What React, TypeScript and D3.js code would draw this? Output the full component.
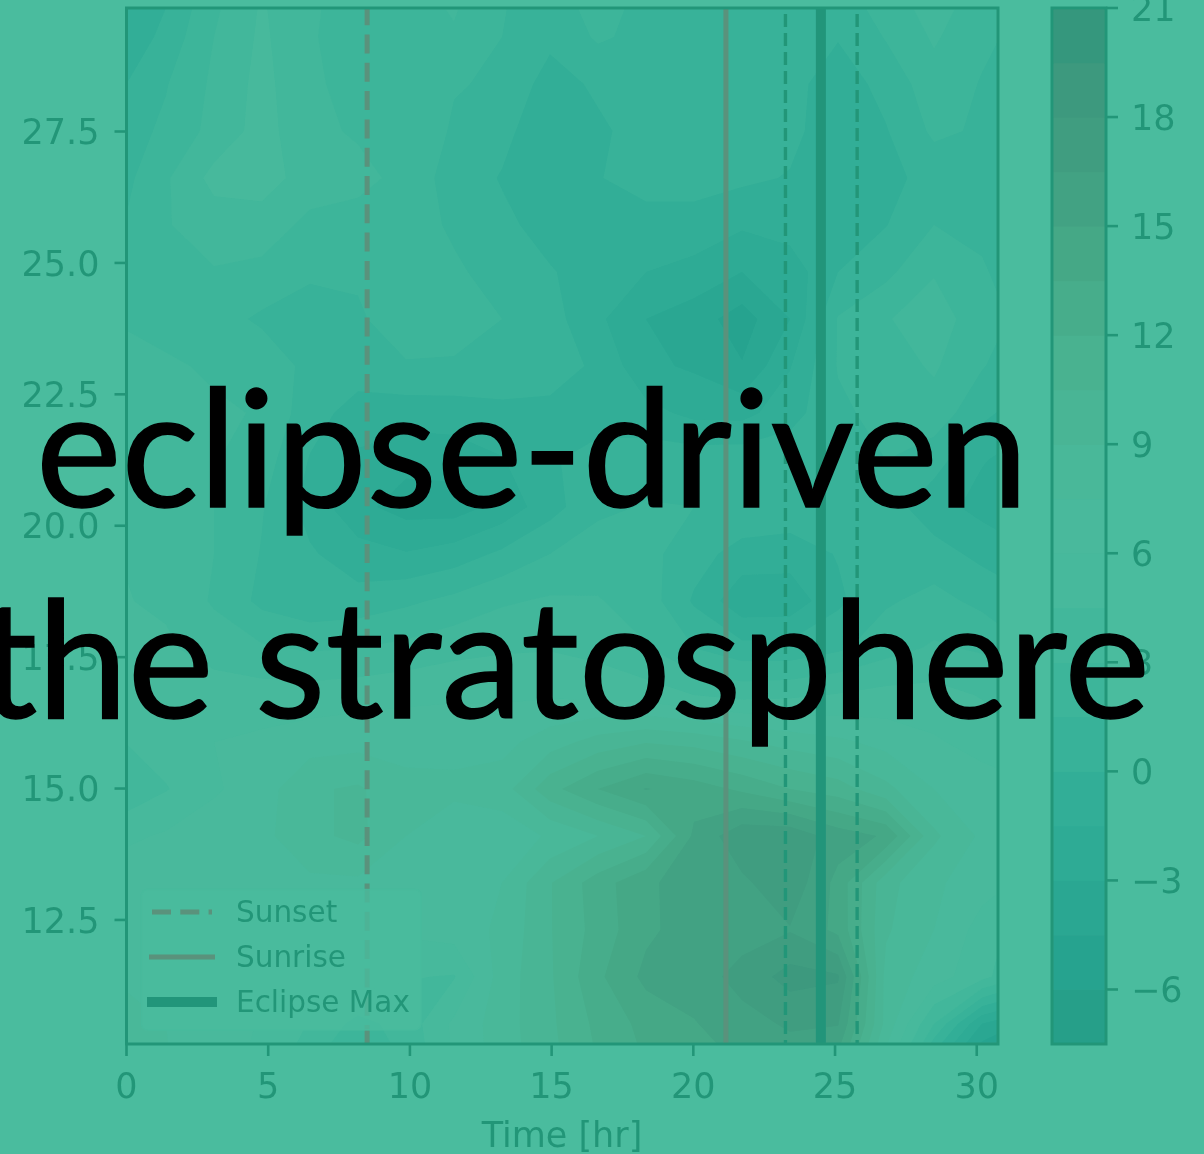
import React from "react";
import * as d3 from "d3";

const timeHours = [-0.3, 1.39, 3.09, 4.78, 6.47, 8.17, 9.86, 11.56, 13.25, 14.94, 16.64, 18.33, 20.03, 21.72, 23.41, 25.11, 26.8, 28.49, 30.19, 31.88];
const altitudeKm = [30.19, 29.29, 28.4, 27.51, 26.62, 25.72, 24.83, 23.93, 23.04, 22.15, 21.25, 20.36, 19.46, 18.57, 17.67, 16.78, 15.89, 14.99, 14.1, 13.2, 12.31, 11.41, 10.52, 9.63];
const anomaly = [
  [-2, -0.3, 2.5, 4.6, 3.2, 2.5, 2.5, 3.4, 1.6, 1, 2.2, 1.2, 1, 0.9, 0.9, 1, 2.4, 4, 2.4, 1.4],
  [-1.5, 0.5, 3, 4.8, 3.1, 2.5, 2.4, 2.8, 1.5, 0.4, 1.7, 1.1, 1, 0.9, 0.6, 0.1, 1.6, 3.2, 1.8, 1],
  [-0.3, 1.4, 3.3, 5, 3.2, 2.6, 2.3, 1.6, 1.3, -0.7, 0.3, 0.9, 1, 0.9, 0.5, -0.8, 0.5, 2.4, 1.4, 1],
  [0.7, 1.8, 3.5, 5.1, 3.4, 2.8, 2.7, 1.3, 0.4, -1, -0.3, 0.7, 1, 1, 0.4, -0.9, -0.1, 1.8, 1.3, 1],
  [0.8, 2.8, 5, 5.4, 3.6, 3.5, 2.5, 0.8, -0.1, -1.1, -0.1, 0.8, 0.6, 0.3, -0.1, -0.9, -0.4, 0.5, 1.1, 1],
  [1.3, 2.9, 3.7, 3.6, 2.7, 2.3, 2.1, 1.3, 0.3, -0.5, -0.8, -0.8, -0.6, -1.3, -0.8, -0.3, -0.05, 1.5, 1.3, 0.9],
  [1.8, 2.4, 2.9, 2.7, 1.7, 1.8, 3, 1.7, 1, 0.1, -0.6, -1.5, -2, -3, -2.4, 0, 1.1, 2.9, 1.6, 0.9],
  [2.9, 2.5, 2.2, 1.2, 0.9, 1.2, 2.7, 2.6, 1.5, 0.6, -1.2, -3, -3.8, -5.2, -3, 1.6, 2.9, 3.7, 2.2, 0.9],
  [3.6, 3.2, 2.8, 2.6, 1, 0.7, 1.3, 1.2, 1, 0.5, -0.2, -2.7, -3.2, -4.4, -1.6, 1.6, 2.3, 3.2, 1.6, 0.3],
  [4, 3.6, 3.2, 2.9, 0.6, -0.6, -0.8, -0.7, -0.4, -0.3, -0.8, -1, -1.9, -2, -0.6, 1.2, 2, 2.4, 0.4, -1],
  [4.2, 3.7, 3.1, 2.2, -0.1, -1.8, -2.6, -2.4, -1.6, -0.2, 0.7, 0.9, 0.9, 1, 1, 1.2, 1.5, 0.6, -1.4, -2.2],
  [4.3, 3.8, 3, 1.6, -0.6, -2.6, -3.6, -3.7, -2.5, -0.6, 1.2, 1.6, 1.5, 1.2, 1, 1, 0.7, -0.9, -2, -2.4],
  [4.5, 4, 3, 1.4, 0.2, -0.9, -1.4, -0.8, 0.3, 1.5, 2.2, 2, 0.6, -0.6, -0.8, 0.1, 0.9, 0.6, -0.4, -1.4],
  [4.6, 4.3, 2.8, 1.1, 0.4, 0.6, 1.2, 1.9, 2.8, 3.2, 3.1, 2.3, -0.2, -2.6, -2.5, -0.3, 1.3, 2, 1.1, 0.3],
  [4.9, 4.7, 3.9, 3.2, 2.8, 3, 3.4, 4, 4.3, 4.4, 4, 3.1, 1.5, 0.5, 0.5, 1.2, 2.4, 3.2, 2.8, 1.5],
  [5, 5.4, 5.2, 5.2, 5.2, 5.4, 5.7, 5.8, 5.8, 5.8, 5.6, 5.2, 4.5, 4, 4.2, 4.6, 5, 5, 4.4, 3.2],
  [4.4, 5.2, 6, 6.3, 6.8, 7, 6.9, 6.9, 7, 8.3, 9.6, 10.4, 10, 9.2, 8.4, 7.8, 7, 6.2, 5.4, 4.4],
  [3, 4.4, 5.8, 6.8, 8.8, 9.2, 8, 7.9, 8.3, 11.5, 13.5, 15.1, 14.3, 13.2, 12, 11.2, 9.4, 7.5, 6.8, 6.3],
  [5.6, 6.2, 6.8, 7.1, 8.6, 9.4, 7.5, 6.4, 6.6, 7.7, 9, 10.5, 15.3, 17.6, 17.6, 15.8, 14.8, 9.3, 7.2, 6.3],
  [6.8, 6.8, 6.6, 6.8, 7.2, 7.2, 7.2, 7.2, 7.5, 10.4, 12.8, 14.7, 15.8, 16.2, 17.6, 14.5, 9.5, 7.8, 6.6, 5.6],
  [7, 6.8, 6.2, 6.2, 6.6, 6.7, 6.3, 6.7, 7.8, 10.4, 12.6, 14.7, 15.7, 15.9, 16.4, 14.6, 9.2, 7.5, 5.4, 3.4],
  [7.4, 7.1, 6.8, 6.4, 6.2, 5.4, 4.6, 4.4, 8.2, 10.3, 13.2, 15.4, 15.8, 17, 18.6, 18.2, 8.5, 6.7, 5, 2.6],
  [8, 7.5, 6.6, 5.9, 4.4, 2.5, 3.6, 6.3, 8.3, 10.2, 12.4, 14, 14.9, 16, 16.7, 16.6, 8.5, 3, -3, -5],
  [8, 7.6, 6.6, 5.6, 3, 1, 3, 6.2, 8.2, 10, 12, 13.5, 14.2, 15, 15.5, 14, 6.5, -2, -7, -8],
];
const levels = d3.range(0, 20).map((i) => -7.5 + i * 1.5);
const xTicks = [0, 5, 10, 15, 20, 25, 30];
const yTicks = [12.5, 15, 17.5, 20, 22.5, 25, 27.5];
const colorbarTicks = [-6, -3, 0, 3, 6, 9, 12, 15, 18, 21];
const sunsetHour = 8.49;
const sunriseHour = 21.15;
const eclipseMaxHour = 24.5;
const eclipseContactHours = [23.25, 25.78];
const legendEntries = ["Sunset", "Sunrise", "Eclipse Max"];
const titleLines = ["eclipse-driven", "the stratosphere"];

const INK = "#249678";
const BG = "#4abc9e";
const GRAY = "#5a927b";
const FONT = "'DejaVu Sans'";

const W = 1204, H = 1154;
const plot = { l: 126.5, r: 998, t: 8, b: 1044 };
const x = d3.scaleLinear().domain([0, 30.75]).range([plot.l, plot.r]);
const y = d3.scaleLinear().domain([10.14, 29.85]).range([plot.b, plot.t]);
const cbar = { l: 1052, r: 1106 };
const cy = d3.scaleLinear().domain([-7.5, 21]).range([plot.b, plot.t]);

const bandColor = (i: number) => {
  const mid = (levels[i] + levels[i + 1]) / 2;
  const t = (mid + 7.5) / 28.5;
  const c = d3.rgb(d3.interpolateRdBu(1 - t));
  return d3.rgb(42 * 0.85 + c.r * 0.15, 176 * 0.85 + c.g * 0.15, 141 * 0.85 + c.b * 0.15).formatHex();
};

const nx = timeHours.length, ny = altitudeKm.length;
const gx = d3.scaleLinear().domain([0.5, nx - 0.5]).range([x(timeHours[0]), x(timeHours[nx - 1])]);
const gy = d3.scaleLinear().domain([0.5, ny - 0.5]).range([y(altitudeKm[0]), y(altitudeKm[ny - 1])]);
const gridPath = d3.geoPath(
  d3.geoTransform({
    point(this: any, a: number, b: number) {
      this.stream.point(gx(a), gy(b));
    },
  })
);
const contourGen = d3.contours().size([nx, ny]).thresholds(levels.slice(1, -1));
const bands = contourGen(anomaly.flat());

export default function App() {
  return (
    <svg
      width={W}
      height={H}
      viewBox={`0 0 ${W} ${H}`}
      style={{ position: "absolute", left: 0, top: 0, background: BG }}
      fontFamily={FONT}
    >
      <defs>
        <clipPath id="plotClip">
          <rect x={plot.l} y={plot.t} width={plot.r - plot.l} height={plot.b - plot.t} />
        </clipPath>
        <filter id="soft" x="-5%" y="-5%" width="110%" height="110%">
          <feGaussianBlur stdDeviation="0.55" />
        </filter>
      </defs>
      <rect width={W} height={H} fill={BG} />
      <g filter="url(#soft)">
        <g clipPath="url(#plotClip)">
          <rect x={plot.l} y={plot.t} width={plot.r - plot.l} height={plot.b - plot.t} fill={bandColor(0)} />
          {bands.map((b, i) => (
            <path key={i} d={gridPath(b as any) || ""} fill={bandColor(i + 1)} />
          ))}
          <line x1={x(sunsetHour)} x2={x(sunsetHour)} y1={plot.b} y2={plot.t} stroke={GRAY} strokeWidth={5} strokeDasharray="19 9.3" />
          <line x1={x(sunriseHour)} x2={x(sunriseHour)} y1={plot.b} y2={plot.t} stroke={GRAY} strokeWidth={5} />
          {eclipseContactHours.map((h) => (
            <line key={h} x1={x(h)} x2={x(h)} y1={plot.b} y2={plot.t} stroke={INK} strokeWidth={3.4} strokeDasharray="13 6" strokeDashoffset={9} />
          ))}
          <line x1={x(eclipseMaxHour)} x2={x(eclipseMaxHour)} y1={plot.b} y2={plot.t} stroke="#22957a" strokeWidth={10} />
        </g>

        {/* legend */}
        <rect x={141.5} y={889.5} width={279.5} height={140.5} rx={6} fill={BG} fillOpacity={0.8} stroke="#47ba9c" strokeOpacity={0.8} strokeWidth={1.5} />
        <line x1={152} x2={212} y1={912} y2={912} stroke={GRAY} strokeWidth={5} strokeDasharray="19 9.3" />
        <line x1={149} x2={215} y1={957} y2={957} stroke={GRAY} strokeWidth={5} />
        <line x1={147} x2={217} y1={1002} y2={1002} stroke="#22957a" strokeWidth={10} />
        {legendEntries.map((t, i) => (
          <text key={t} x={236} y={922 + i * 45} fontSize={29.5} fill={INK}>{t}</text>
        ))}

        {/* axes frame */}
        <rect x={plot.l} y={plot.t} width={plot.r - plot.l} height={plot.b - plot.t} fill="none" stroke={INK} strokeWidth={3} />

        {xTicks.map((t) => (
          <g key={t}>
            <line x1={x(t)} x2={x(t)} y1={plot.b} y2={plot.b + 12} stroke={INK} strokeWidth={2.6} />
            <text x={x(t)} y={1098} fontSize={35} textAnchor="middle" fill={INK}>{t}</text>
          </g>
        ))}
        {yTicks.map((t) => (
          <g key={t}>
            <line x1={plot.l - 12} x2={plot.l} y1={y(t)} y2={y(t)} stroke={INK} strokeWidth={2.6} />
            <text x={99.5} y={y(t) + 12.7} fontSize={35} textAnchor="end" fill={INK}>{t.toFixed(1)}</text>
          </g>
        ))}
        <text x={562} y={1147} fontSize={35} textAnchor="middle" fill={INK}>Time [hr]</text>

        {/* colour bar */}
        {levels.slice(0, -1).map((l, i) => (
          <rect key={l} x={cbar.l} y={cy(levels[i + 1])} width={cbar.r - cbar.l} height={cy(l) - cy(levels[i + 1]) + 0.5} fill={bandColor(i)} />
        ))}
        <rect x={cbar.l} y={plot.t} width={cbar.r - cbar.l} height={plot.b - plot.t} fill="none" stroke={INK} strokeWidth={3} />
        {colorbarTicks.map((t) => (
          <g key={t}>
            <line x1={cbar.r} x2={cbar.r + 12} y1={cy(t)} y2={cy(t)} stroke={INK} strokeWidth={2.6} />
            <text x={1131} y={cy(t) + 12.7} fontSize={35} fill={INK}>{t < 0 ? `\u2212${-t}` : t}</text>
          </g>
        ))}
      </g>

      {/* caption */}
      <text x={36} y={507} fontFamily="Lato" fontSize={163} fill="#000" stroke="#000" strokeWidth={1.5} textLength={992} lengthAdjust="spacingAndGlyphs">{titleLines[0]}</text>
      <text x={-21} y={718} fontFamily="Lato" fontSize={163} fill="#000" stroke="#000" strokeWidth={1.5} textLength={1171} lengthAdjust="spacingAndGlyphs">{titleLines[1]}</text>
    </svg>
  );
}
